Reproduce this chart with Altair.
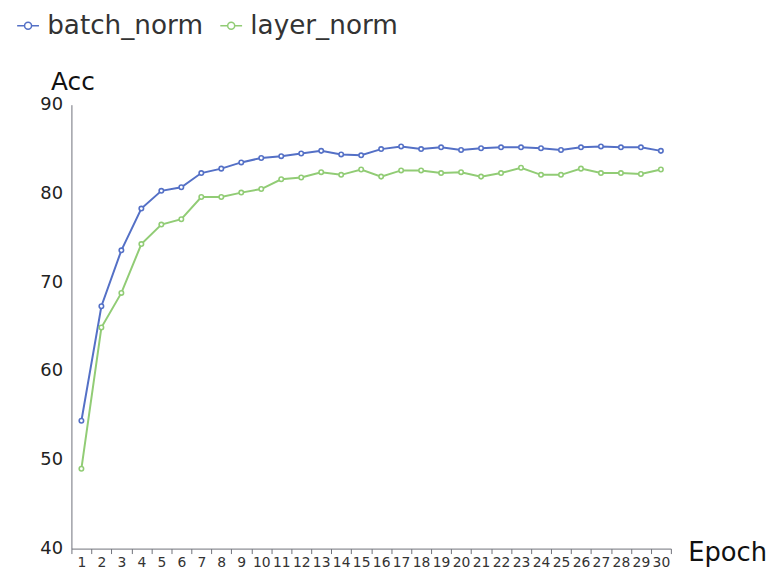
import altair as alt
import pandas as pd

epochs = list(range(1, 31))
batch_norm = [54.4, 67.3, 73.6, 78.3, 80.3, 80.7, 82.3, 82.8, 83.5, 84.0,
              84.2, 84.5, 84.8, 84.4, 84.3, 85.0, 85.3, 85.0, 85.2, 84.9,
              85.1, 85.2, 85.2, 85.1, 84.9, 85.2, 85.3, 85.2, 85.2, 84.8]
layer_norm = [49.0, 64.9, 68.8, 74.3, 76.5, 77.1, 79.6, 79.6, 80.1, 80.5,
              81.6, 81.8, 82.4, 82.1, 82.7, 81.9, 82.6, 82.6, 82.3, 82.4,
              81.9, 82.3, 82.9, 82.1, 82.1, 82.8, 82.3, 82.3, 82.2, 82.7]
series_names = ["batch_norm", "layer_norm"]
colors = ["#5470c6", "#91cc75"]
y_ticks = [40, 50, 60, 70, 80, 90]

df = pd.DataFrame({
    "Epoch": epochs * 2,
    "Acc": batch_norm + layer_norm,
    "series": [series_names[0]] * len(epochs) + [series_names[1]] * len(epochs),
})

legend_symbol = ("M -1 0 L -0.32 0 M 0.32 0 L 1 0 "
                 "M 0.32 0 A 0.32 0.32 0 1 1 -0.32 0 A 0.32 0.32 0 1 1 0.32 0")

FONT = "DejaVu Sans"

chart = alt.Chart(df).mark_line(
    strokeWidth=2,
    point=alt.OverlayMarkDef(filled=False, fill="white", size=20, strokeWidth=1.6),
).encode(
    x=alt.X(
        "Epoch:O",
        scale=alt.Scale(type="band", paddingInner=0, paddingOuter=0),
        axis=alt.Axis(
            title="Epoch", titleX=622, titleY=12, titleAlign="left",
            titleBaseline="alphabetic", titleFontSize=26, titleFont=FONT,
            titleFontWeight="normal", titleColor="#111",
            labelAngle=0, labelFontSize=14, labelFont=FONT, labelColor="#333",
            labelPadding=2, labelOverlap=False,
            tickBand="extent", tickSize=5, tickColor="#6E7079",
            domainColor="#6E7079", grid=False,
        ),
    ),
    y=alt.Y(
        "Acc:Q",
        scale=alt.Scale(domain=[40, 90], nice=False, zero=False),
        axis=alt.Axis(
            values=y_ticks, title="Acc", titleAngle=0, titleX=1, titleY=-15,
            titleAlign="center", titleBaseline="alphabetic", titleFontSize=25,
            titleFont=FONT, titleFontWeight="normal", titleColor="#111",
            labelFontSize=18, labelFont=FONT, labelColor="#222", labelPadding=9,
            ticks=False, tickSize=0, domainColor="#6E7079", grid=False,
        ),
    ),
    color=alt.Color(
        "series:N",
        scale=alt.Scale(domain=series_names, range=colors),
        legend=alt.Legend(
            title=None, orient="none", legendX=-57, legendY=-93,
            direction="horizontal", columns=2, columnPadding=14,
            symbolType=legend_symbol, symbolSize=484, symbolStrokeWidth=1.5,
            symbolFillColor="transparent", labelOffset=6,
            labelFontSize=26.5, labelFont=FONT, labelColor="#333", padding=0,
        ),
    ),
).properties(
    width=605,
    height=448,
    autosize=alt.AutoSizeParams(type="none"),
    padding={"left": 64, "top": 95, "right": 96, "bottom": 20},
    background="white",
).configure_view(stroke=None)

chart.save("out.html", embed_options={"renderer": "svg", "actions": False})
